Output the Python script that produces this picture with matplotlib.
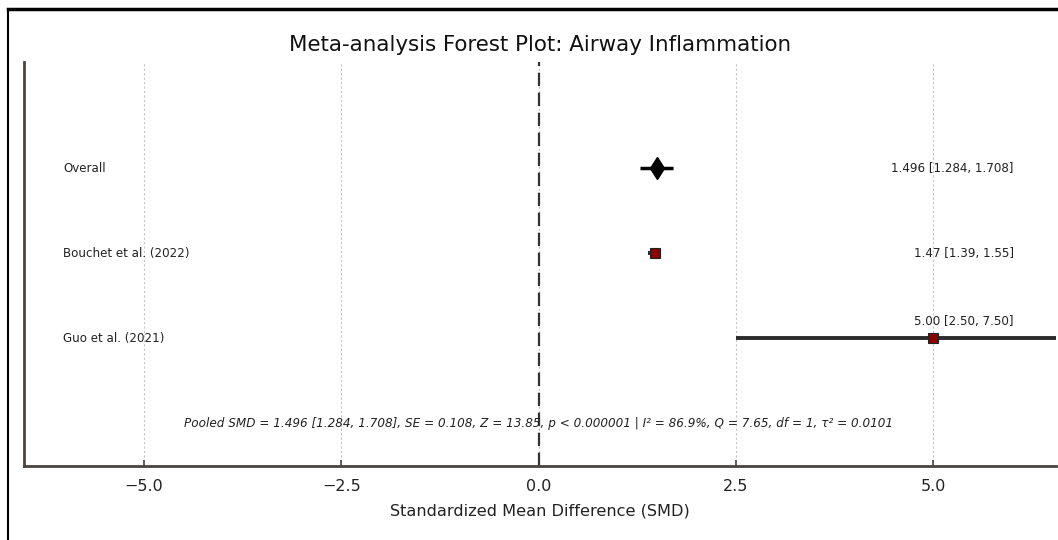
"""Forest plot: airway inflammation meta-analysis."""
import matplotlib
matplotlib.use("Agg")
import matplotlib.pyplot as plt
from matplotlib.lines import Line2D

# study rows, top to bottom
labels = ["Overall", "Bouchet et al. (2022)", "Guo et al. (2021)"]
smd = [1.496, 1.47, 5.00]
ci_lo = [1.284, 1.39, 2.50]
ci_hi = [1.708, 1.55, 7.50]
value_text = ["1.496 [1.284, 1.708]", "1.47 [1.39, 1.55]", "5.00 [2.50, 7.50]"]
xticks = [-5.0, -2.5, 0.0, 2.5, 5.0]
pooled_note = (r"Pooled SMD = 1.496 [1.284, 1.708], SE = 0.108, Z = 13.85, "
               r"p < 0.000001 | I² = 86.9%, Q = 7.65, df = 1, τ² = 0.0101")


def main() -> None:
    fig = plt.figure(figsize=(10.58, 5.4), dpi=100)
    ax = fig.add_axes([0.0227, 0.137, 0.975, 0.748])

    n = len(labels)
    ys = [n - 1 - i for i in range(n)]

    for i, y in enumerate(ys):
        if i == 0:
            ax.plot([ci_lo[i], ci_hi[i]], [y, y], color="black", lw=2.5,
                    solid_capstyle="butt", zorder=3)
            ax.plot(smd[i], y, marker="d", color="black", ms=11.5, zorder=4)
        else:
            ax.plot([ci_lo[i], ci_hi[i]], [y, y], color="#2b2b2b", lw=2.8,
                    solid_capstyle="butt", zorder=3)
            ax.plot(smd[i], y, marker="s", color="#8b0000", mec="#222222",
                    mew=0.8, ms=7, zorder=4)
        ax.text(-6.02, y, labels[i], ha="left", va="center", fontsize=8.6,
                color="#222222")
        if ci_hi[i] > 6.0:
            ax.text(6.02, y + 0.12, value_text[i], ha="right", va="bottom",
                    fontsize=8.6, color="#222222")
        else:
            ax.text(6.02, y, value_text[i], ha="right", va="center",
                    fontsize=8.6, color="#222222")

    ax.axvline(0, color="#333333", lw=1.6, ls=(0, (6, 3)), zorder=2)
    ax.text(0.0, -1.0, pooled_note, ha="center", va="center", fontsize=8.65,
            style="italic", color="#222222")

    ax.set_xlim(-6.52, 6.55)
    ax.set_ylim(-1.5, 3.25)
    ax.set_xticks(xticks)
    ax.set_xticklabels([f"{t:.1f}".replace("-", "\u2212") for t in xticks])
    ax.set_yticks([])
    ax.tick_params(axis="x", direction="in", length=4, width=1.2,
                   labelsize=11.5, pad=9, color="#444444", labelcolor="#222222")
    ax.grid(axis="x", ls=(0, (2, 2)), lw=0.8, color="#c4c4c4", zorder=0)
    ax.set_xlabel("Standardized Mean Difference (SMD)", fontsize=11.6,
                  labelpad=7, color="#222222")
    ax.set_title("Meta-analysis Forest Plot: Airway Inflammation", fontsize=15.4,
                 pad=8, color="#111111")

    for s in ("top", "right"):
        ax.spines[s].set_visible(False)
    for s in ("left", "bottom"):
        ax.spines[s].set_color("#4a4440")
        ax.spines[s].set_linewidth(2.0)

    # screenshot frame (top and left edges only)
    fig.add_artist(Line2D([0.0076, 1.0], [0.984, 0.984], color="black",
                          lw=2.5, transform=fig.transFigure))
    fig.add_artist(Line2D([0.0076, 0.0076], [0.0, 0.984], color="black",
                          lw=1.5, transform=fig.transFigure))

    fig.savefig("out.png", dpi=100)


if __name__ == "__main__":
    main()
